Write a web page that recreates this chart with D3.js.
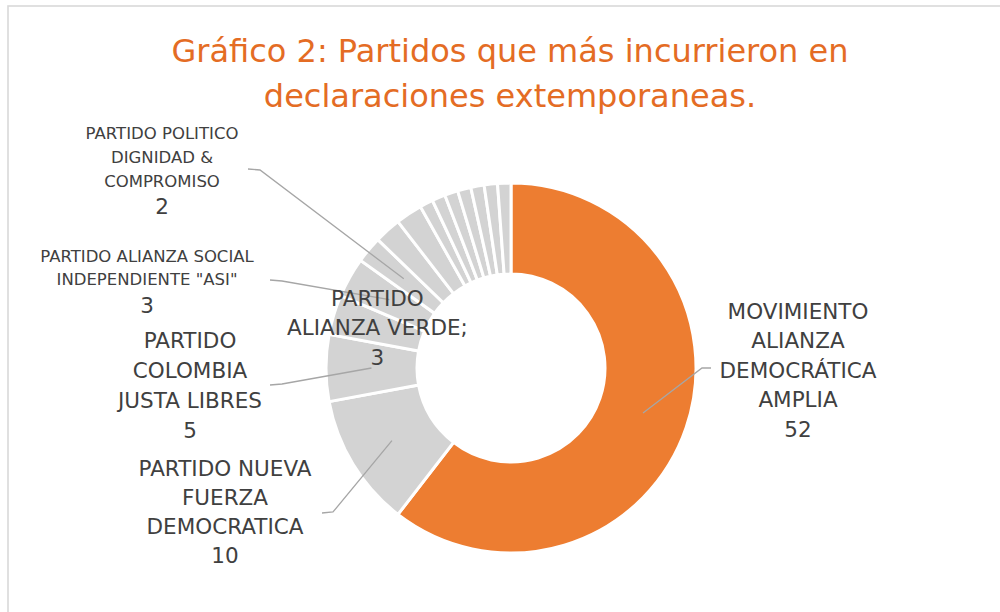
<!DOCTYPE html>
<html>
<head>
<meta charset="utf-8">
<script src="https://cdn.jsdelivr.net/npm/d3@7/dist/d3.min.js"></script>
<style>
  body { margin: 0; background: #fff; }
  text { font-family: "DejaVu Sans", "Liberation Sans", Arial, sans-serif; }
</style>
</head>
<body>
<div id="chart"></div>
<script>
// partidos en el orden del anillo (sentido horario desde las 12)
const partidos = [
  "MOVIMIENTO ALIANZA DEMOCRÁTICA AMPLIA",
  "PARTIDO NUEVA FUERZA DEMOCRATICA",
  "PARTIDO COLOMBIA JUSTA LIBRES",
  "PARTIDO ALIANZA VERDE",
  "PARTIDO ALIANZA SOCIAL INDEPENDIENTE \"ASI\"",
  "PARTIDO POLITICO DIGNIDAD & COMPROMISO",
  "Otro partido 1", "Otro partido 2", "Otro partido 3", "Otro partido 4",
  "Otro partido 5", "Otro partido 6", "Otro partido 7", "Otro partido 8",
  "Otro partido 9"
];
const declaraciones = [52, 10, 5, 3, 3, 2, 2, 2, 1, 1, 1, 1, 1, 1, 1];

const titulo = ["Gráfico 2: Partidos que más incurrieron en", "declaraciones extemporaneas."];

// layout of the data labels (index into partidos)
const etiquetas = [
  { i: 0, lines: ["MOVIMIENTO", "ALIANZA", "DEMOCRÁTICA", "AMPLIA"], x: 798, y: 311, fs: 21.5, lh: 29.5, vfs: 21.5, leader: [[711, 368], [702, 368]] },
  { i: 1, lines: ["PARTIDO NUEVA", "FUERZA", "DEMOCRATICA"], x: 225, y: 468, fs: 21.5, lh: 29.3, vfs: 21.5, leader: [[322, 513], [333, 512]] },
  { i: 2, lines: ["PARTIDO", "COLOMBIA", "JUSTA LIBRES"], x: 190, y: 340, fs: 21.5, lh: 30, vfs: 21.5, leader: [[270, 385], [282, 384]] },
  { i: 3, lines: ["PARTIDO", "ALIANZA VERDE;"], x: 377, y: 300, fs: 21.5, lh: 29.5, vfs: 21.5, inside: true },
  { i: 4, lines: ["PARTIDO ALIANZA SOCIAL", "INDEPENDIENTE \"ASI\""], x: 147, y: 256, fs: 16.5, lh: 23.5, vfs: 21.5, vgap: 26, leader: [[270, 280], [282, 281]] },
  { i: 5, lines: ["PARTIDO POLITICO", "DIGNIDAD &", "COMPROMISO"], x: 162, y: 133, fs: 16.5, lh: 24, vfs: 21.5, vgap: 25, leader: [[248, 169], [260, 170]] }
];

const W = 1000, H = 612;
const cx = 511, cy = 368, R = 185, r = 94;

const svg = d3.select("#chart").append("svg")
  .attr("width", W)
  .attr("height", H);

// chart frame
svg.append("rect")
  .attr("x", 8).attr("y", 6)
  .attr("width", 1000).attr("height", 700)
  .attr("fill", "#fff")
  .attr("stroke", "#d9d9d9")
  .attr("stroke-width", 1.6);

svg.selectAll("text.title")
  .data(titulo)
  .enter().append("text")
  .attr("class", "title")
  .attr("x", 510)
  .attr("y", (d, i) => 62 + i * 45)
  .attr("text-anchor", "middle")
  .attr("fill", "#e46c24")
  .style("font-size", "32px")
  .text(d => d);

const pie = d3.pie().sort(null).value(d => d).startAngle(0).endAngle(2 * Math.PI);
const arcs = pie(declaraciones);
const arc = d3.arc().innerRadius(r).outerRadius(R);

const g = svg.append("g").attr("transform", "translate(" + cx + "," + cy + ")");

g.selectAll("path")
  .data(arcs)
  .enter().append("path")
  .attr("d", arc)
  .attr("fill", (d, i) => i == 0 ? "#ed7d31" : "#d3d3d3")
  .attr("stroke", "#fff")
  .attr("stroke-width", 3);

// leader lines
const line = d3.line();
etiquetas.filter(e => e.leader).forEach(e => {
  const c = arc.centroid(arcs[e.i]);
  const pts = e.leader.concat([[c[0] + cx, c[1] + cy]]);
  svg.append("path")
    .attr("d", line(pts))
    .attr("fill", "none")
    .attr("stroke", "#a6a6a6")
    .attr("stroke-width", 1.3);
});

// labels
etiquetas.forEach(e => {
  let x = e.x, y = e.y;
  if (e.inside) {
    const c = arc.centroid(arcs[e.i]);
    x = c[0] + cx;
    y = c[1] + cy - e.lh;
  }
  const t = svg.append("g");
  e.lines.forEach((s, k) => {
    t.append("text")
      .attr("x", x)
      .attr("y", y + k * e.lh)
      .attr("dy", "0.35em")
      .attr("text-anchor", "middle")
      .attr("fill", "#404040")
      .style("font-size", e.fs + "px")
      .text(s);
  });
  t.append("text")
    .attr("x", x)
    .attr("y", y + (e.lines.length - 1) * e.lh + (e.vgap || e.lh))
    .attr("dy", "0.35em")
    .attr("text-anchor", "middle")
    .attr("fill", "#404040")
    .style("font-size", e.vfs + "px")
    .text(declaraciones[e.i]);
});
</script>
</body>
</html>
